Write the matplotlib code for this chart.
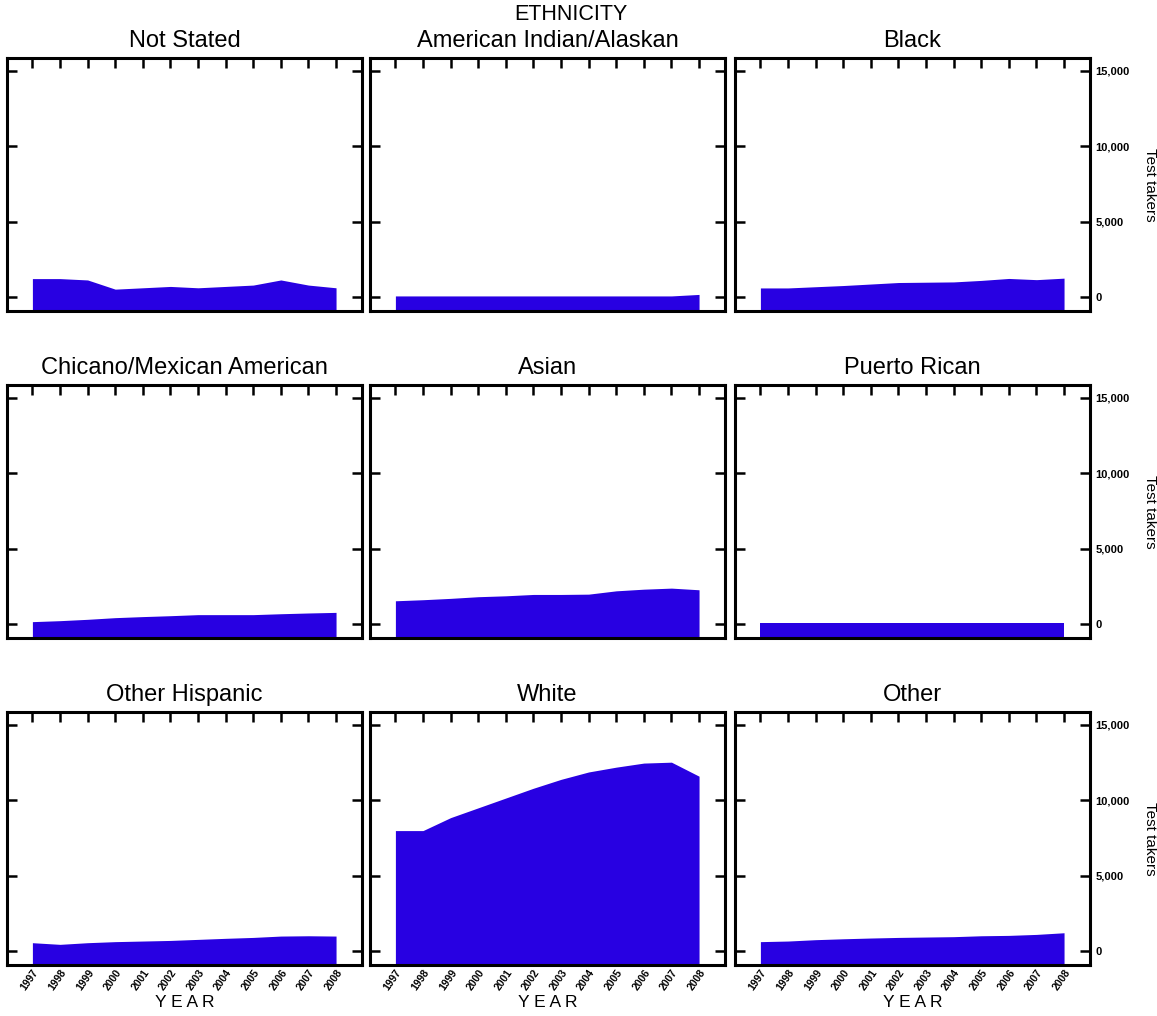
import matplotlib
matplotlib.use("Agg")
import matplotlib.pyplot as plt
import numpy as np

plt.rcParams['font.family'] = ['Liberation Sans', 'DejaVu Sans']

years = [1997, 1998, 1999, 2000, 2001, 2002, 2003, 2004, 2005, 2006, 2007, 2008]
year_labels = [str(y) for y in years]

not_stated = [1220, 1220, 1130, 520, 610, 700, 610, 700, 790, 1130, 790, 610]
american_indian = [70, 70, 70, 70, 70, 70, 70, 70, 70, 70, 70, 170]
black = [600, 600, 680, 760, 860, 960, 980, 1000, 1100, 1230, 1150, 1250]
chicano = [155, 220, 310, 420, 490, 550, 620, 620, 620, 680, 730, 770]
asian = [1540, 1610, 1700, 1810, 1870, 1960, 1960, 1980, 2200, 2310, 2380, 2270]
puerto_rican = [50, 50, 50, 50, 50, 50, 50, 50, 50, 50, 50, 50]
other_hispanic = [550, 440, 550, 620, 660, 700, 770, 840, 900, 990, 1010, 990]
white = [7990, 7990, 8850, 9500, 10150, 10800, 11390, 11880, 12200, 12470, 12530, 11600]
other = [620, 660, 750, 810, 860, 900, 925, 950, 1010, 1035, 1100, 1210]

panel_titles = ["Not Stated", "American Indian/Alaskan", "Black",
                "Chicano/Mexican American", "Asian", "Puerto Rican",
                "Other Hispanic", "White", "Other"]
panel_values = [not_stated, american_indian, black,
                chicano, asian, puerto_rican,
                other_hispanic, white, other]

y_ticks = [0, 5000, 10000, 15000]
y_tick_labels = ["0", "5,000", "10,000", "15,000"]

fill_color = "#2800e2"

W, H = 1157, 1016
fig = plt.figure(figsize=(W / 100, H / 100), dpi=100)

col_left = [7, 370, 735]
row_top = [58, 385, 712]
aw, ah = 355, 253
ymin, ymax = -930, 15860

for i, (title, vals) in enumerate(zip(panel_titles, panel_values)):
    r, c = divmod(i, 3)
    x0 = col_left[c] / W
    y0 = 1 - (row_top[r] + ah) / H
    ax = fig.add_axes([x0, y0, aw / W, ah / H])
    ax.fill_between(years, vals, ymin, color=fill_color, lw=0)
    ax.set_xlim(1996.08, 2008.94)
    ax.set_ylim(ymin, ymax)
    for s in ax.spines.values():
        s.set_linewidth(2.2)
    ax.set_title(title, fontsize=17, pad=8)
    ax.set_xticks(years)
    ax.set_yticks(y_ticks)
    ax.tick_params(axis='y', direction='in', length=7, width=1.8,
                   left=True, right=True, labelleft=False,
                   labelright=(c == 2), labelsize=8, pad=4)
    ax.tick_params(axis='x', direction='in', length=7, width=1.8,
                   top=True, bottom=False, labeltop=False,
                   labelbottom=(r == 2), labelsize=7.5, pad=2)
    if c == 2:
        ax.set_yticklabels(y_tick_labels, fontweight='bold')
        fig.text(1150 / W, 1 - (row_top[r] + ah / 2) / H, "Test takers",
                 rotation=270, ha='center', va='center', fontsize=11)
    if r == 2:
        ax.set_xticklabels(year_labels, rotation=55, ha='right',
                           rotation_mode='anchor', fontweight='bold')
        ax.set_xlabel("Y E A R", fontsize=12.5, labelpad=2)
    else:
        ax.set_xticklabels([])

fig.text(571 / W, 1 - 15 / H, "ETHNICITY", ha='center', va='center',
         fontsize=15.5)

fig.savefig("out.png", dpi=100)
